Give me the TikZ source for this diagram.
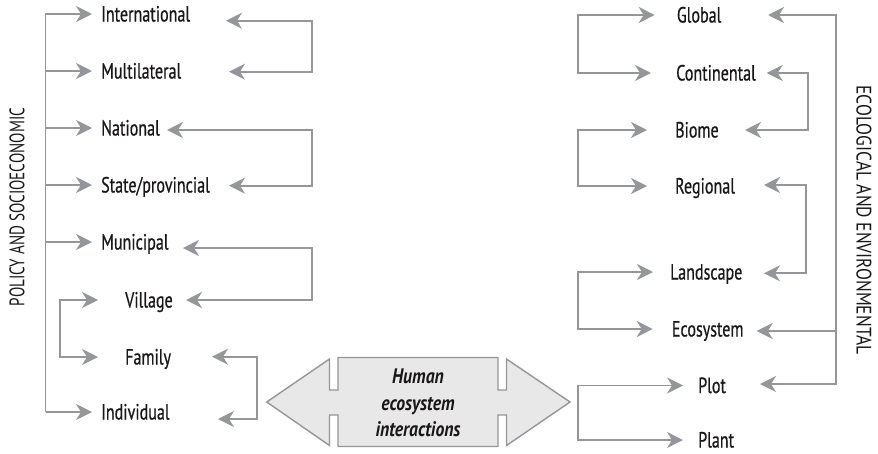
\documentclass[tikz,border=0pt]{standalone}
\usepackage{fontspec}
\setmainfont{PT Sans}
\newfontfamily\lblfont{PT Sans}[FakeStretch=0.73,FakeBold=0.6]
\newfontfamily\boldfont{PT Sans}[FakeStretch=0.84]
\newfontfamily\sidefontL{PT Sans}[FakeStretch=0.72]
\newfontfamily\sidefontR{PT Sans}[FakeStretch=0.83]
\usetikzlibrary{arrows.meta}
\definecolor{lgray}{HTML}{949699}
\definecolor{sfill}{HTML}{E8E8E9}
\definecolor{txt}{HTML}{1A1718}
\begin{document}
\begin{tikzpicture}[x=1pt,y=-1pt,
  ln/.style={draw=lgray,line width=1.8pt},
  arr/.style={ln,-{Stealth[length=16pt,width=16pt,inset=5pt]}},
  dbl/.style={ln,{Stealth[length=16pt,width=16pt,inset=5pt]}-{Stealth[length=16pt,width=16pt,inset=5pt]}},
  lvl/.style={anchor=west,inner sep=0pt,text height=15pt,text depth=0pt,font=\lblfont\fontsize{22}{26}\selectfont,text=txt},
  side/.style={inner sep=0pt,text=txt}]
\useasboundingbox (0,0) rectangle (878,453);

% ---------- left column ----------
\node[lvl] (intl)    at (101,14)  {International};
\node[lvl] (multi)   at (101,71)  {Multilateral};
\node[lvl] (nat)     at (101,128) {National};
\node[lvl] (state)   at (101,185) {State/provincial};
\node[lvl] (muni)    at (101,242) {Municipal};
\node[lvl] (village) at (125,300) {Village};
\node[lvl] (family)  at (125,357) {Family};
\node[lvl] (indiv)   at (101,412) {Individual};

\coordinate (spL) at (45.5,0);
\coordinate (spV) at (60,0);
\draw[arr] (indiv.west -| spL) -- (intl.west -| spL) -- ([xshift=-9pt]intl.west);
\foreach \n in {multi,nat,state,muni,indiv}
  \draw[arr] (\n.west -| spL) -- ([xshift=-9pt]\n.west);
\coordinate (tVl) at ([xshift=-27pt]village.west);
\coordinate (tFl) at ([xshift=-27pt]family.west);
\draw[dbl] (tVl) -- (tVl -| spV) -- (tFl -| spV) -- (tFl);

% right brackets, left column
\coordinate (tI) at (226,20.7);  \coordinate (tM) at (229,71.7);
\coordinate (tN) at (167,130);   \coordinate (tS) at (229,185.7);
\coordinate (tMu) at (183,248);  \coordinate (tV) at (186,300);
\coordinate (tF) at (212,356.7); \coordinate (tIn) at (218,419);
\coordinate (bxA) at (312,0);
\coordinate (bxD) at (257,0);
\draw[dbl] (tI) -- (tI -| bxA) -- (tM -| bxA) -- (tM);
\draw[dbl] (tN) -- (tN -| bxA) -- (tS -| bxA) -- (tS);
\draw[dbl] (tMu) -- (tMu -| bxA) -- (tV -| bxA) -- (tV);
\draw[dbl] (tF) -- (tF -| bxD) -- (tIn -| bxD) -- (tIn);

% ---------- right column ----------
\node[lvl] (glob)  at (676.7,15)  {Global};
\node[lvl] (cont)  at (676,73)    {Continental};
\node[lvl] (biome) at (675,130)   {Biome};
\node[lvl] (reg)   at (675,186)   {Regional};
\node[lvl] (land)  at (670,272)   {Landscape};
\node[lvl] (eco)   at (671.7,329) {Ecosystem};
\node[lvl] (plot)  at (698,385.5) {Plot};
\node[lvl] (plant) at (698,440)   {Plant};

\coordinate (spR) at (578,0);
\coordinate (tGl) at ([xshift=-22pt]glob.west);
\coordinate (tCl) at ([xshift=-25pt]cont.west);
\coordinate (tBl) at ([xshift=-28pt]biome.west);
\coordinate (tRl) at ([xshift=-28pt]reg.west);
\coordinate (tLl) at ([xshift=-17pt]land.west);
\coordinate (tEl) at ([xshift=-19pt]eco.west);
\coordinate (tPl) at ([xshift=-15pt]plot.west);
\coordinate (tPn) at ([xshift=-15pt]plant.west);
\draw[dbl] (tGl) -- (tGl -| spR) -- (tCl -| spR) -- (tCl);
\draw[dbl] (tBl) -- (tBl -| spR) -- (tRl -| spR) -- (tRl);
\draw[dbl] (tLl) -- (tLl -| spR) -- (tEl -| spR) -- (tEl);
\draw[dbl] (tPl) -- (tPl -| spR) -- (tPn -| spR) -- (tPn);

\coordinate (tG) at (768,15);    \coordinate (tE) at (756.7,331); \coordinate (tP) at (760,384);
\coordinate (tC) at (766.7,73);  \coordinate (tB) at (745,130);
\coordinate (tR) at (764,185);   \coordinate (tL) at (764,273.3);
\coordinate (bigR) at (836,0);
\coordinate (bxE) at (808,0);
\coordinate (bxF) at (806,0);
\draw[dbl] (tG) -- (tG -| bigR) -- (tP -| bigR) -- (tP);
\draw[arr] (tE -| bigR) -- (tE);
\draw[dbl] (tC) -- (tC -| bxE) -- (tB -| bxE) -- (tB);
\draw[dbl] (tR) -- (tR -| bxF) -- (tL -| bxF) -- (tL);

% ---------- central double arrow ----------
\draw[draw=lgray,line width=1.4pt,fill=sfill,line join=miter]
  (266.7,402) -- (329.5,359) -- (329.5,390) -- (338,390) -- (338,357.5)
  -- (498,357.5) -- (498,390) -- (506.5,390) -- (506.5,359) -- (570,402)
  -- (506.5,445.5) -- (506.5,415) -- (498,415) -- (498,446.5) -- (338,446.5)
  -- (338,415) -- (329.5,415) -- (329.5,445.5) -- cycle;
\node[inner sep=0pt,align=center,text=txt,
  font=\boldfont\bfseries\itshape\fontsize{21}{26.5}\selectfont] (hei) at (418,403)
  {Human\\ecosystem\\interactions};

% ---------- side labels ----------
\node[side,rotate=90,font=\sidefontL\fontsize{21}{24}\selectfont]  (pol) at (17,207) {POLICY AND SOCIOECONOMIC};
\node[side,rotate=-90,font=\sidefontR\fontsize{21}{24}\selectfont] (env) at (864,220) {ECOLOGICAL AND ENVIRONMENTAL};
\end{tikzpicture}
\end{document}
